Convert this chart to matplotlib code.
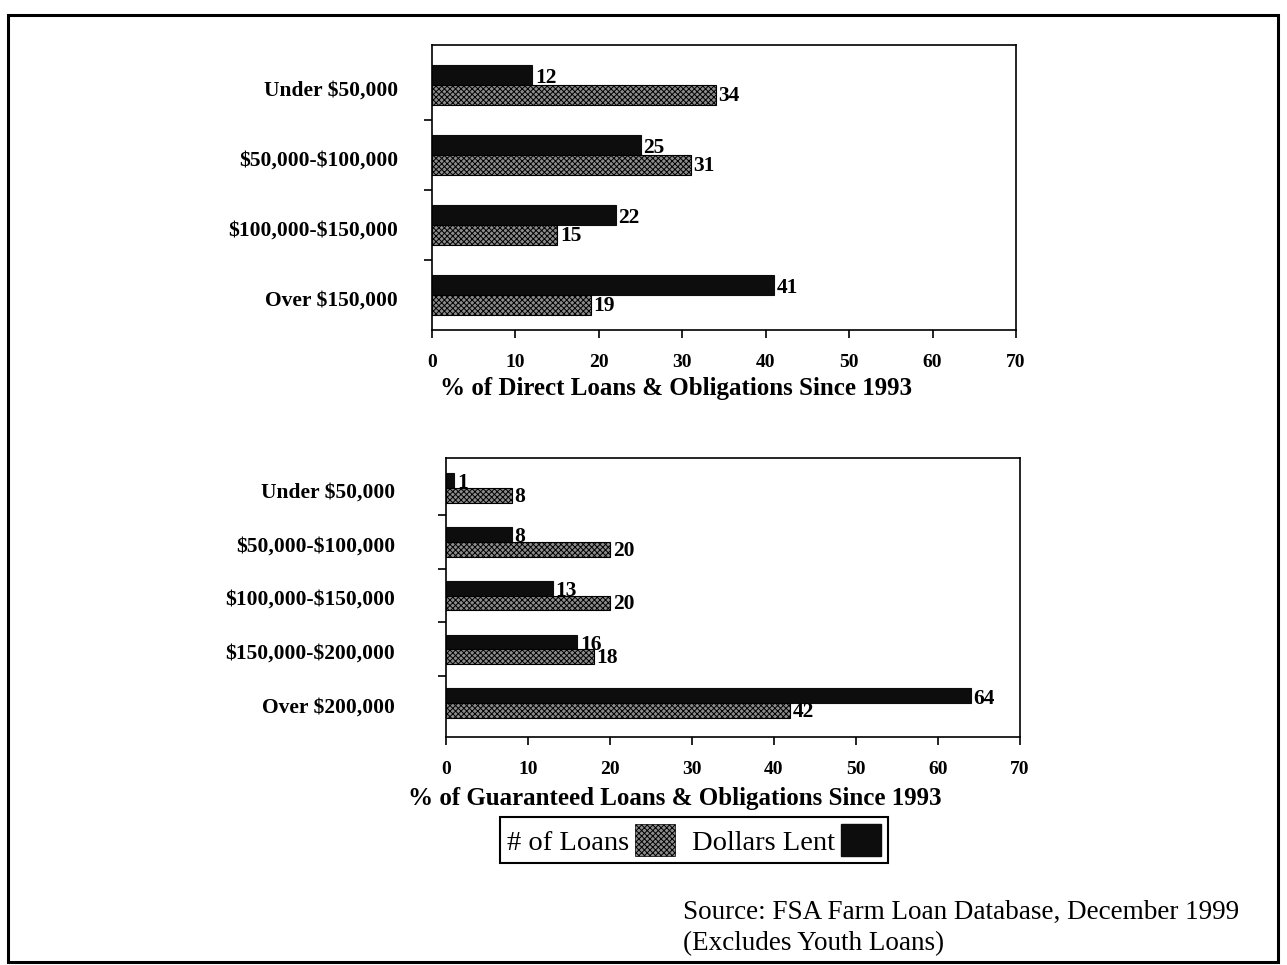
"""
FSA farm loan distribution by loan size: direct vs guaranteed, two stacked bar panels.
"""
import matplotlib

matplotlib.use("Agg")
import matplotlib.pyplot as plt
from matplotlib.patches import Patch, Rectangle
from matplotlib.transforms import blended_transform_factory

plt.rcParams["font.family"] = ["Liberation Serif", "DejaVu Serif"]
plt.rcParams["text.parse_math"] = False  # labels carry literal dollar signs
plt.rcParams["hatch.linewidth"] = 0.7
plt.rcParams["hatch.color"] = "black"

W, H = 1287, 965

direct_sizes = ["Under $50,000", "$50,000-$100,000", "$100,000-$150,000", "Over $150,000"]
direct_loans = [34, 31, 15, 19]
direct_dollars = [12, 25, 22, 41]

guar_sizes = [
    "Under $50,000",
    "$50,000-$100,000",
    "$100,000-$150,000",
    "$150,000-$200,000",
    "Over $200,000",
]
guar_loans = [8, 20, 20, 18, 42]
guar_dollars = [1, 8, 13, 16, 64]

x_ticks = [0, 10, 20, 30, 40, 50, 60, 70]

DARK = "#0d0d0d"
HATCH_FACE = "#8c8c8c"


def px_axes(fig, left, top, right, bottom):
    return fig.add_axes([left / W, 1 - bottom / H, (right - left) / W, (bottom - top) / H])


def draw_panel(ax, sizes, loans, dollars, bar_h, ylim, label_x):
    ys = list(range(len(sizes)))
    dark_y = [y - bar_h / 2 for y in ys]
    hatch_y = [y + bar_h / 2 for y in ys]
    ax.barh(dark_y, dollars, height=bar_h, color=DARK, edgecolor=DARK, linewidth=0.8)
    ax.barh(hatch_y, loans, height=bar_h, facecolor=HATCH_FACE, edgecolor="black",
            hatch="xxxxxx", linewidth=0.8)

    for y, v in zip(dark_y, dollars):
        ax.annotate(str(v), (v, y), xytext=(2, -2), textcoords="offset points",
                    ha="left", va="center", fontsize=15.5, fontweight="bold")
    for y, v in zip(hatch_y, loans):
        ax.annotate(str(v), (v, y), xytext=(2, -1), textcoords="offset points",
                    ha="left", va="center", fontsize=15.5, fontweight="bold")

    trans = blended_transform_factory(ax.transAxes, ax.transData)
    for y, s in zip(ys, sizes):
        ax.text(label_x, y + 0.08, s, transform=trans, ha="right", va="center",
                fontsize=15.5, fontweight="bold")

    ax.set_xlim(0, 70)
    ax.set_ylim(*ylim)
    ax.set_xticks(x_ticks)
    ax.set_xticklabels([str(t) for t in x_ticks], fontsize=14, fontweight="bold")
    ax.set_yticks([y + 0.5 for y in ys[:-1]])
    ax.set_yticklabels([])
    ax.tick_params(axis="both", direction="out", length=6, width=1.2)
    ax.tick_params(axis="x", pad=11)
    for sp in ax.spines.values():
        sp.set_linewidth(1.2)


fig = plt.figure(figsize=(W / 100, H / 100), dpi=100)

# outer frame
fig.patches.append(Rectangle((8 / W, 1 - 962 / H), 1270 / W, 947 / H, transform=fig.transFigure,
                             fill=False, edgecolor="black", linewidth=2.2))

ax1 = px_axes(fig, 432, 45, 1016, 330)
draw_panel(ax1, direct_sizes, direct_loans, direct_dollars, 0.285, (3.5, -0.57), -0.058)
fig.text(676 / W, 1 - 389 / H, "% of Direct Loans & Obligations Since 1993",
         ha="center", va="center", fontsize=18, fontweight="bold")

ax2 = px_axes(fig, 446, 458, 1020, 737)
draw_panel(ax2, guar_sizes, guar_loans, guar_dollars, 0.275, (4.63, -0.56), -0.089)
fig.text(675 / W, 1 - 799 / H, "% of Guaranteed Loans & Obligations Since 1993",
         ha="center", va="center", fontsize=18, fontweight="bold")

handles = [
    Patch(facecolor=HATCH_FACE, edgecolor="black", hatch="xxxxxx", linewidth=0.5),
    Patch(facecolor=DARK, edgecolor=DARK),
]
leg = fig.legend(handles, ["# of Loans", "Dollars Lent"], ncol=2, markerfirst=False,
                 loc="center", bbox_to_anchor=(694 / W, 1 - 840 / H), fontsize=20.5,
                 frameon=True, fancybox=False, edgecolor="black", framealpha=1,
                 handlelength=1.4, handleheight=1.3, handletextpad=0.2, columnspacing=0.6,
                 borderpad=0.25, borderaxespad=0)
leg.get_frame().set_linewidth(1.5)

fig.text(683 / W, 1 - 912 / H, "Source: FSA Farm Loan Database, December 1999",
         ha="left", va="center", fontsize=19.5)
fig.text(683 / W, 1 - 944 / H, "(Excludes Youth Loans)", ha="left", va="center", fontsize=19.5)

fig.savefig("out.png", dpi=100)
